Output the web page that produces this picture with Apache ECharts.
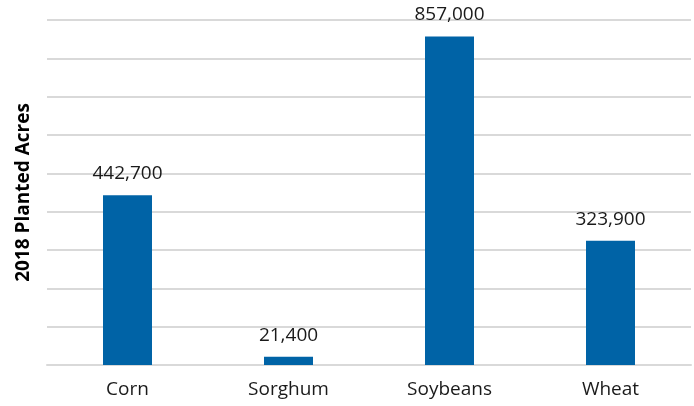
<!DOCTYPE html>
<html><head><meta charset="utf-8">
<script src="https://cdn.jsdelivr.net/npm/echarts@6/dist/echarts.min.js"></script>
<style>html,body{margin:0;padding:0;background:#fff}#c{width:694px;height:406px}</style>
</head><body><div id="c"></div>
<script>
const categories = ["Corn", "Sorghum", "Soybeans", "Wheat"];
const acres = [442700, 21400, 857000, 323900];
const yMax = 900000;
const yInterval = 100000;

const chart = echarts.init(document.getElementById('c'), null, {renderer: 'canvas'});
const font = '"Open Sans", "Noto Sans", sans-serif';
chart.setOption({
  animation: false,
  grid: {left: 47, right: 3, top: 20, bottom: 41},
  xAxis: {
    type: 'category', data: categories,
    axisLine: {show: true, lineStyle: {color: '#d9d9d9', width: 2}},
    axisTick: {show: false},
    axisLabel: {color: '#1a1a1a', fontSize: 19, fontFamily: font, margin: 15}
  },
  yAxis: {
    type: 'value', min: 0, max: yMax, interval: yInterval,
    name: '2018 Planted Acres', nameLocation: 'middle', nameGap: 14,
    nameTextStyle: {fontSize: 19, fontWeight: 'bold', color: '#000', fontFamily: font},
    axisLine: {show: false}, axisTick: {show: false}, axisLabel: {show: false},
    splitLine: {lineStyle: {color: '#d9d9d9', width: 2}}
  },
  series: [{
    type: 'bar', data: acres, barWidth: 49,
    itemStyle: {color: '#0063a6'},
    label: {
      show: true, position: 'top', distance: 12,
      color: '#1a1a1a', fontSize: 19, fontFamily: font,
      formatter: p => p.value.toLocaleString('en-US')
    }
  }]
});
</script></body></html>
